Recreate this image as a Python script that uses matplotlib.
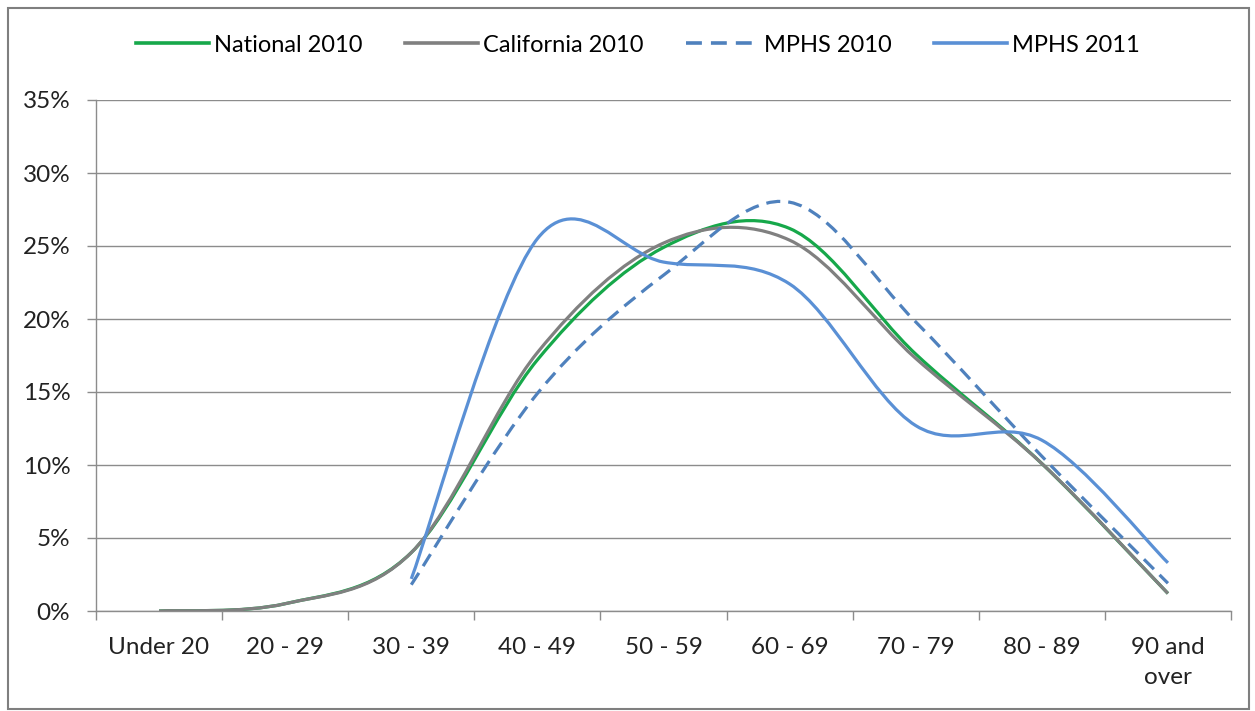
import numpy as np
import matplotlib
matplotlib.use("Agg")
import matplotlib.pyplot as plt
from matplotlib.path import Path
from matplotlib.patches import PathPatch, Rectangle
from matplotlib.lines import Line2D
from matplotlib.ticker import FuncFormatter, MultipleLocator

plt.rcParams['font.family'] = ['Lato', 'DejaVu Sans']

# age bands and share of members (%) in each
age_groups = ["Under 20", "20 - 29", "30 - 39", "40 - 49", "50 - 59",
              "60 - 69", "70 - 79", "80 - 89", "90 and\nover"]
national_2010 = [0.0, 0.5, 4.0, 17.2, 24.9, 26.2, 17.6, 10.1, 1.2]
california_2010 = [0.0, 0.5, 4.0, 17.7, 25.2, 25.4, 17.3, 10.1, 1.2]
mphs_2010 = [None, None, 1.8, 14.9, 23.0, 28.0, 19.8, 10.6, 1.9]
mphs_2011 = [None, None, 2.2, 25.5, 23.9, 22.4, 12.7, 11.7, 3.3]


def smooth_path(xs, ys):
    # bezier spline through the points, like a "smoothed line" chart
    pts = np.column_stack([xs, ys]).astype(float)
    verts = [pts[0]]
    codes = [Path.MOVETO]
    n = len(pts)
    for i in range(n - 1):
        p0 = pts[max(i - 1, 0)]
        p1 = pts[i]
        p2 = pts[i + 1]
        p3 = pts[min(i + 2, n - 1)]
        c1 = p1 + (p2 - p0) / 6.0
        c2 = p2 - (p3 - p1) / 6.0
        verts += [c1, c2, p2]
        codes += [Path.CURVE4] * 3
    return Path(verts, codes)


fig = plt.figure(figsize=(12.55, 7.11), dpi=100)
ax = fig.add_axes([96 / 1255, 100 / 711, 1135 / 1255, 511 / 711])

x = np.arange(len(age_groups))
series = [
    ("National 2010", national_2010, "#16A84A", "-"),
    ("California 2010", california_2010, "#808080", "-"),
    ("MPHS 2010", mphs_2010, "#4F81BD", (0, (4.4, 2.5))),
    ("MPHS 2011", mphs_2011, "#5A90D5", "-"),
]
handles = []
for name, vals, col, ls in series:
    xs = [xi for xi, v in zip(x, vals) if v is not None]
    ys = [v for v in vals if v is not None]
    patch = PathPatch(smooth_path(xs, ys), facecolor="none", edgecolor=col,
                      linewidth=2.3, linestyle=ls, capstyle="butt", zorder=3)
    ax.add_patch(patch)
    handles.append(Line2D([], [], color=col, linewidth=2.6, linestyle=ls))

ax.set_xlim(-0.5, len(age_groups) - 0.5)
ax.set_ylim(0, 35)
ax.yaxis.set_major_locator(MultipleLocator(5))
ax.yaxis.set_major_formatter(FuncFormatter(lambda v, p: f"{v:.0f}%"))
ax.grid(axis="y", color="#8C8C8C", linewidth=1.0)
ax.set_axisbelow(True)

ax.set_xticks(x)
ax.set_xticklabels(age_groups, linespacing=1.5)
ax.set_xticks(np.arange(len(age_groups) + 1) - 0.5, minor=True)
ax.tick_params(axis="x", which="major", length=0, pad=19, labelsize=17.5,
               labelcolor="#222222")
ax.tick_params(axis="x", which="minor", length=6.5, color="#8C8C8C", width=1)
ax.tick_params(axis="y", length=6.5, color="#8C8C8C", width=1, pad=12,
               labelsize=17.5, labelcolor="#222222")

for side in ("top", "right"):
    ax.spines[side].set_visible(False)
for side in ("left", "bottom"):
    ax.spines[side].set_color("#8C8C8C")
    ax.spines[side].set_linewidth(1.0)

fig.legend(handles, [s[0] for s in series], loc="center", ncol=4,
           bbox_to_anchor=(638 / 1255, 1 - 45 / 711), frameon=False,
           handlelength=3.1, handletextpad=0.2, columnspacing=1.8,
           fontsize=17)

# chart border
fig.patches.append(Rectangle((8 / 1255, 2 / 711), 1241 / 1255, 701 / 711,
                             transform=fig.transFigure, fill=False,
                             edgecolor="#7F7F7F", linewidth=1.5))

fig.savefig("out.png", dpi=100)
